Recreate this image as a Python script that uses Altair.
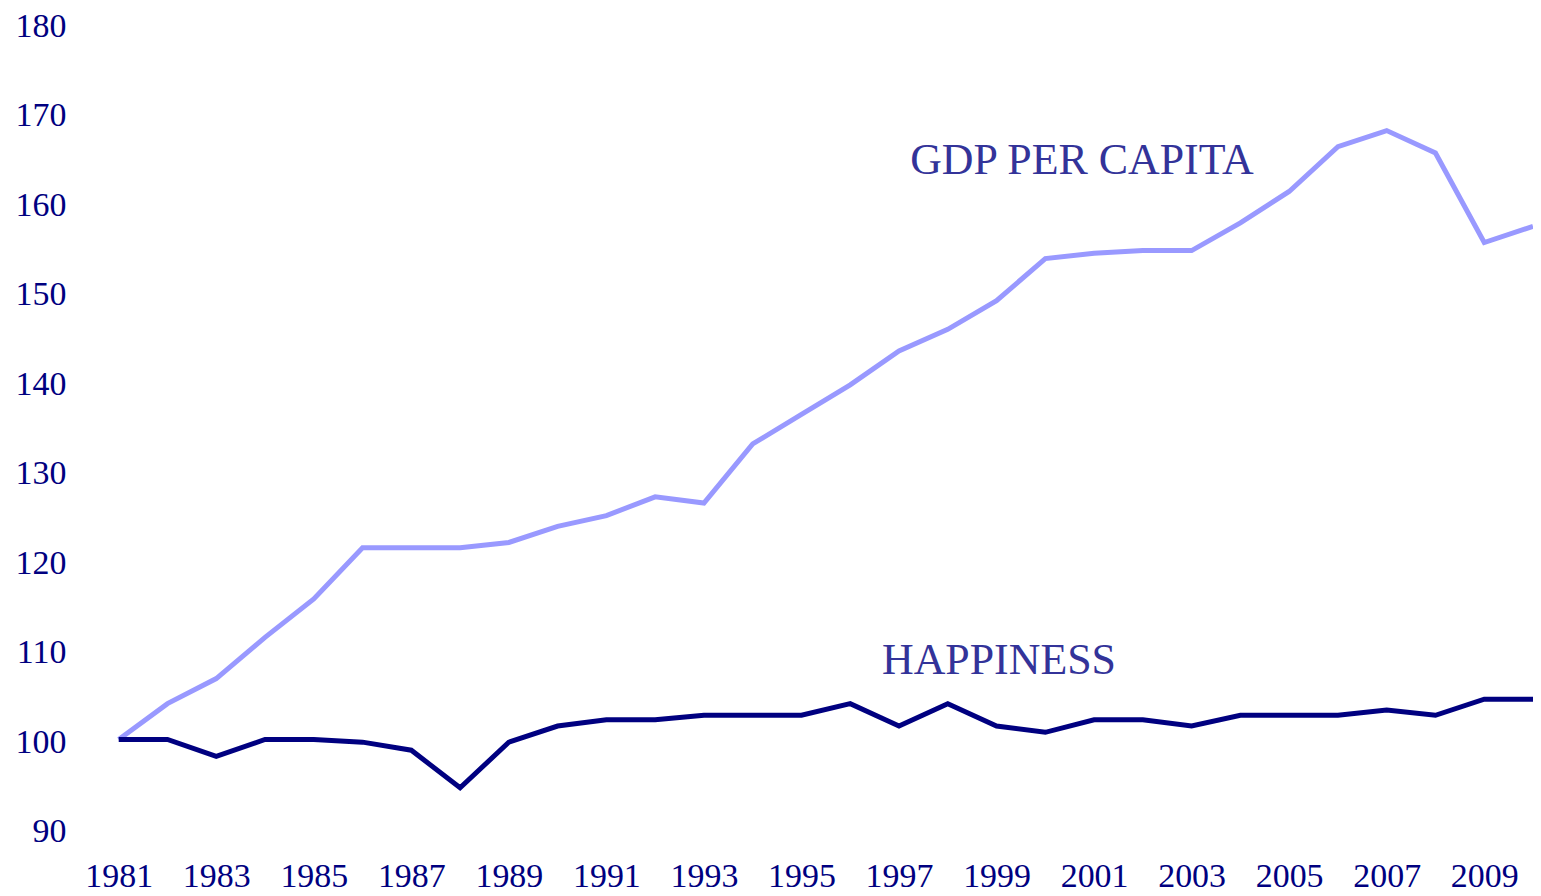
import altair as alt
import pandas as pd

years = list(range(1981, 2011))
gdp = [100.0, 104.0, 106.8, 111.4, 115.7, 121.4, 121.4, 121.4, 122.0, 123.8,
       125.0, 127.1, 126.4, 133.0, 136.3, 139.6, 143.4, 145.8, 149.0, 153.7,
       154.3, 154.6, 154.6, 157.7, 161.2, 166.2, 168.0, 165.5, 155.5, 157.3]
happiness = [100.0, 100.0, 98.1, 100.0, 100.0, 99.7, 98.8, 94.6, 99.7, 101.5,
             102.2, 102.2, 102.7, 102.7, 102.7, 104.0, 101.5, 104.0, 101.5, 100.8,
             102.2, 102.2, 101.5, 102.7, 102.7, 102.7, 103.3, 102.7, 104.5, 104.5]
series_names = ["GDP PER CAPITA", "HAPPINESS"]
label_years = [2000.75, 1999.05]
label_values = [164.6, 108.8]
x_ticks = list(range(1981, 2010, 2))
y_ticks = list(range(90, 181, 10))

rows = []
for y, g, h in zip(years, gdp, happiness):
    rows.append({"year": y, "value": g, "series": series_names[0]})
    rows.append({"year": y, "value": h, "series": series_names[1]})
df = pd.DataFrame(rows)
labels = pd.DataFrame({"year": label_years, "value": label_values, "series": series_names})

FONT = "Liberation Serif"
xs = alt.X("year:Q", scale=alt.Scale(domain=[1981, 2010], nice=False, zero=False),
           axis=alt.Axis(values=x_ticks, format="d", title=None, grid=False, domain=False,
                         ticks=False, labelPadding=31, labelFont=FONT, labelFontSize=34,
                         labelColor="#000080", labelOverlap=False, labelFlush=False))
ys = alt.Y("value:Q", scale=alt.Scale(domain=[90, 180], nice=False, zero=False),
           axis=alt.Axis(values=y_ticks, title=None, grid=False, domain=False, ticks=False,
                         labelPadding=53, labelFont=FONT, labelFontSize=34, labelOffset=3,
                         labelColor="#000080"))

lines = alt.Chart(df).mark_line(strokeWidth=5).encode(
    x=xs, y=ys,
    color=alt.Color("series:N", scale=alt.Scale(domain=series_names, range=["#9999FF", "#000080"]),
                    legend=None),
    order="year:Q",
)

text = alt.Chart(labels).mark_text(font=FONT, fontSize=44, color="#333399", align="center",
                                   baseline="middle").encode(
    x="year:Q", y="value:Q", text="series:N")

chart = (lines + text).properties(
    width=1418, height=808,
    padding={"left": 111, "top": 14, "right": 0, "bottom": 64},
    autosize=alt.AutoSizeParams(type="none"),
).configure(background="white").configure_view(stroke=None, strokeWidth=0)

chart.save("out.html", embed_options={"renderer": "svg", "actions": False})
